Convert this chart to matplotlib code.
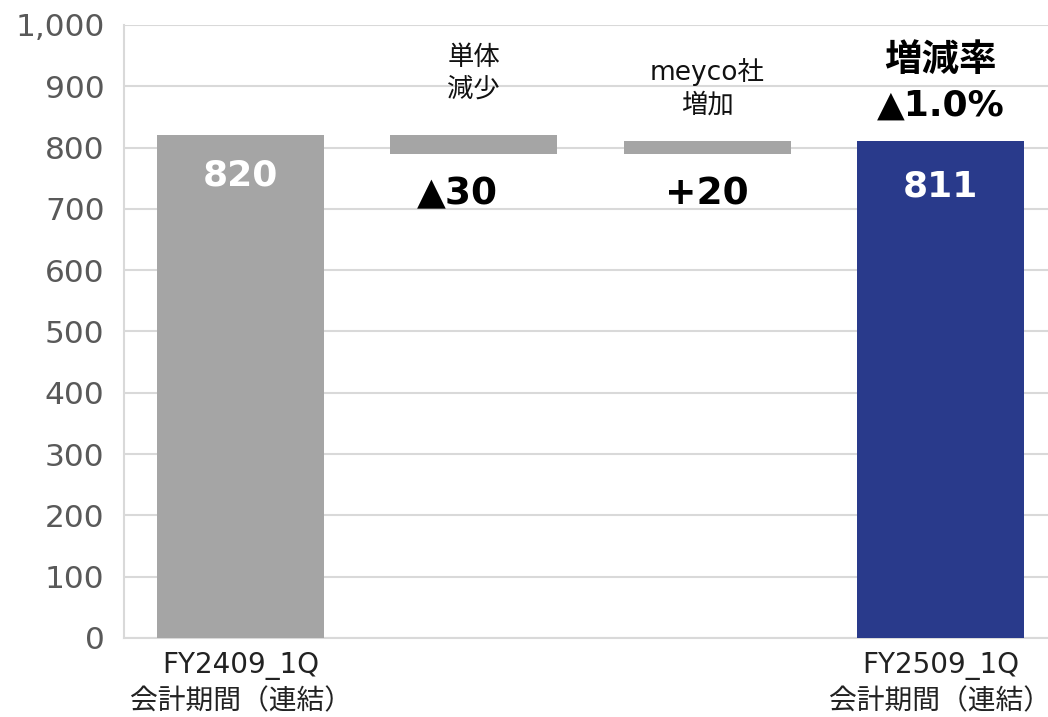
import matplotlib
matplotlib.use("Agg")
import matplotlib.pyplot as plt
from matplotlib.ticker import FuncFormatter

# Latin glyphs from DejaVu, Japanese falls back to Noto CJK
plt.rcParams['font.family'] = ['DejaVu Sans', 'Noto Sans CJK JP']

# waterfall data
categories = ['FY2409_1Q\n会計期間（連結）', '', '', 'FY2509_1Q\n会計期間（連結）']
start_value = 820
changes = [-30, 20]
end_value = 811
step_titles = ['単体\n減少', 'meyco社\n増加']
step_labels = ['▲30', '+20']
rate_title = '増減率'
rate_value = '▲1.0%'

gray = '#a5a5a5'
navy = '#293a8b'

# bottoms / heights for each bar
bottoms = [0]
heights = [start_value]
level = start_value
for c in changes:
    new_level = level + c
    bottoms.append(min(level, new_level))
    heights.append(abs(c))
    level = new_level
bottoms.append(0)
heights.append(end_value)
colors = [gray, gray, gray, navy]

fig = plt.figure(figsize=(10.48, 7.17), dpi=100)
ax = fig.add_axes([0.1183, 0.1102, 0.8903, 0.855])

x = range(len(categories))
ax.bar(x, heights, bottom=bottoms, width=0.715, color=colors, zorder=3)

ax.set_xlim(-0.5, 3.5)
ax.set_ylim(0, 1000)
ax.set_yticks(range(0, 1001, 100))
ax.yaxis.set_major_formatter(FuncFormatter(lambda v, p: f'{int(v):,}'))
ax.set_xticks(list(x))
ax.set_xticklabels(categories, fontsize=20, color='#222222', linespacing=1.35)
ax.tick_params(axis='y', labelsize=22.5, colors='#595959', length=0, pad=14)
ax.tick_params(axis='x', length=0, pad=10)

ax.grid(axis='y', color='#d9d9d9', linewidth=1.5, zorder=0)
for s in ['top', 'right']:
    ax.spines[s].set_visible(False)
ax.spines['left'].set_color('#d9d9d9')
ax.spines['left'].set_linewidth(1.5)
ax.spines['bottom'].set_color('#d9d9d9')
ax.spines['bottom'].set_linewidth(1.5)

# values inside the totals
ax.text(0, start_value - 65, f'{start_value}', ha='center', va='center',
        fontsize=26, fontweight='bold', color='white', zorder=4)
ax.text(3, end_value - 74, f'{end_value}', ha='center', va='center',
        fontsize=26, fontweight='bold', color='white', zorder=4)

# step annotations
for i, (t, lab) in enumerate(zip(step_titles, step_labels)):
    ax.text(i + 1, [920, 897][i], t, ha='center', va='center', fontsize=19,
            color='#111111', linespacing=1.3)
    ax.text(i + 1 - [0.07, 0][i], bottoms[i + 1] - 66, lab, ha='center',
            va='center', fontsize=27, fontweight='bold', color='black')

ax.text(3, 941, rate_title, ha='center', va='center', fontsize=27,
        fontweight='bold', color='black')
ax.text(3, 869, rate_value, ha='center', va='center', fontsize=26,
        fontweight='bold', color='black')

fig.savefig('out.png', dpi=100)
